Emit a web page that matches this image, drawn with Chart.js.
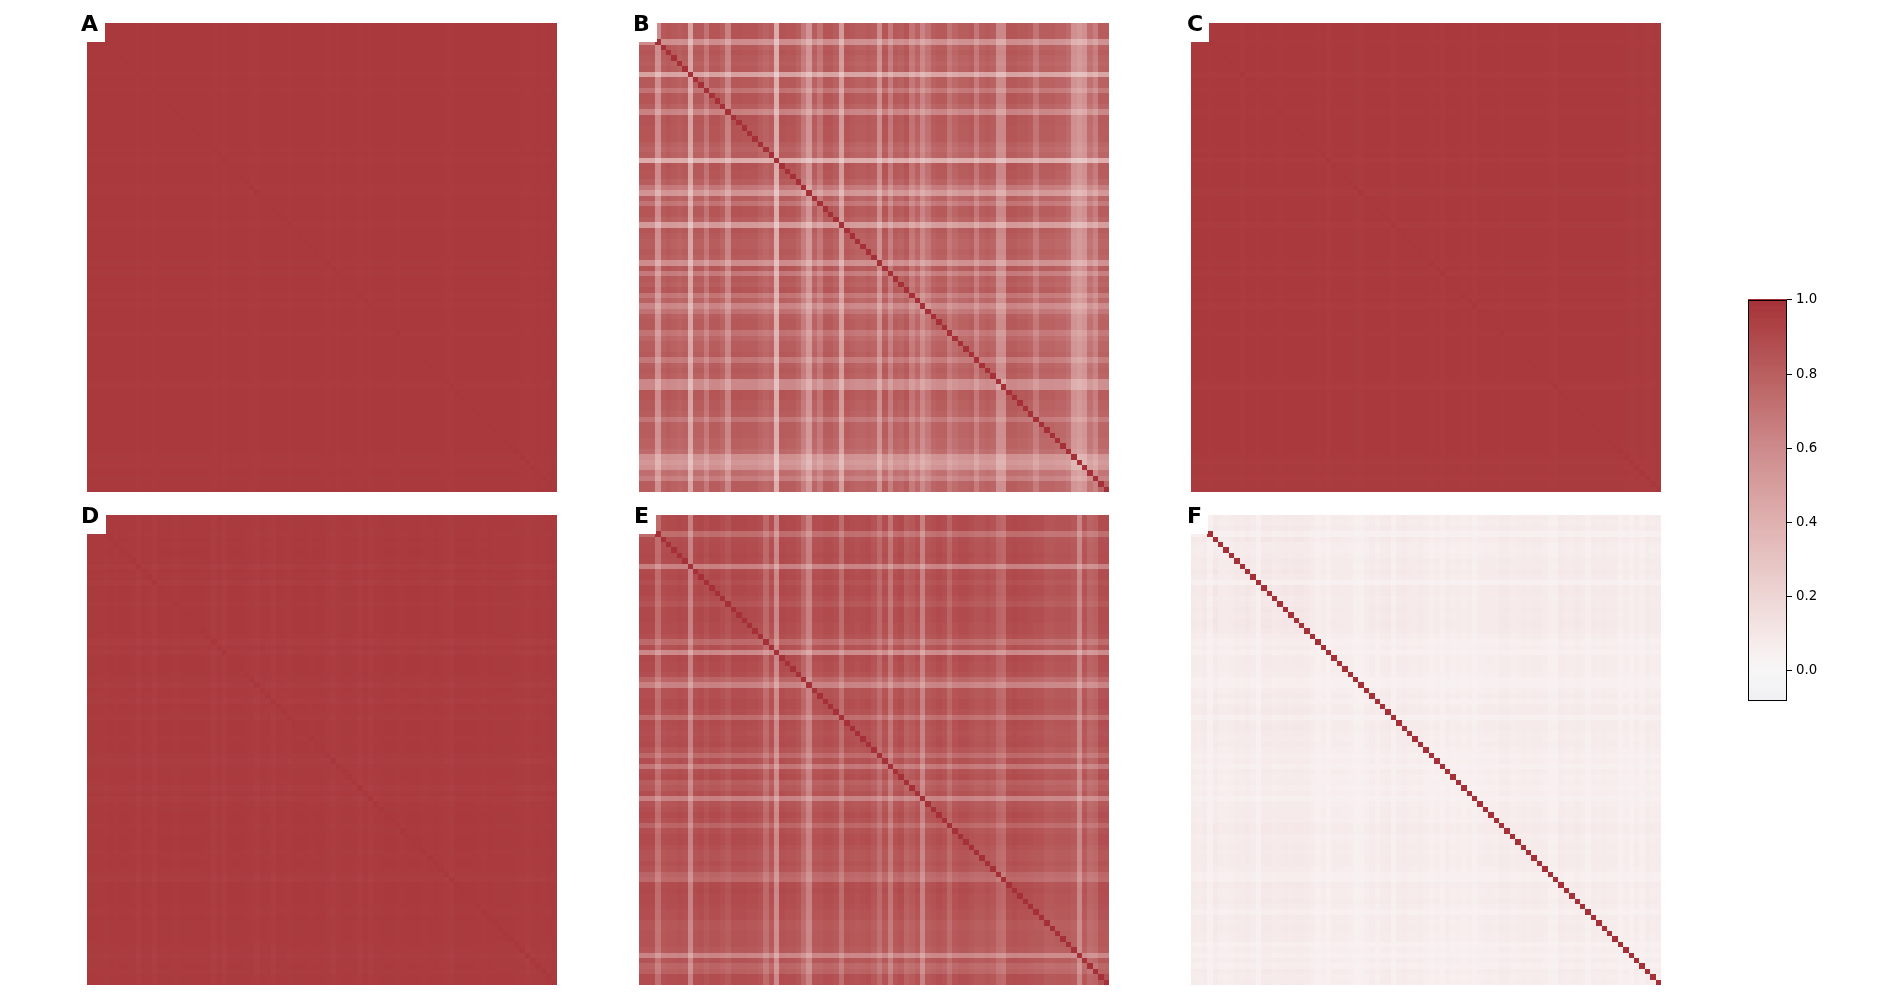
<!DOCTYPE html>
<html>
<head>
<meta charset="utf-8">
<title>Correlation matrices</title>
<script src="https://cdn.jsdelivr.net/npm/chart.js@4/dist/chart.umd.js"></script>
<style>
  html, body { margin: 0; padding: 0; background: #fff; }
  #page { position: relative; width: 1900px; height: 1000px; overflow: hidden; }
  canvas { position: absolute; display: block; }
  .box { position: absolute; background: #fff; }
  .tag { position: absolute; font: bold 22px "DejaVu Sans"; line-height: 24px; color: #000; }
</style>
</head>
<body>
<div id="page"></div>
<script>
// row / column strength of each panel (87 variables per panel).
// a cell is not read on its own: off-diagonal = strength(row) * strength(col), diagonal = panelDiagonal
const profileA = [.985,.985,.985,.985,.985,.985,.985,.985,.985,.978,.985,.985,.982,.985,.985,.985,.985,.985,.985,.985,.985,.985,.985,.982,.985,.978,.985,.985,.985,.985,.982,.978,.985,.985,.985,.985,.985,.978,.985,.985,.985,.985,.985,.985,.982,.985,.98,.985,.985,.985,.982,.985,.978,.985,.985,.985,.985,.982,.985,.985,.985,.985,.985,.985,.985,.985,.982,.98,.985,.985,.985,.985,.985,.985,.985,.985,.985,.985,.985,.985,.982,.978,.982,.985,.982,.985,.985];
const profileB = [.92,.92,.92,.64,.9,.92,.9,.88,.9,.52,.9,.9,.77,.92,.92,.88,.7,.93,.93,.92,.92,.92,.88,.85,.88,.47,.93,.92,.92,.88,.75,.6,.88,.77,.92,.92,.88,.57,.92,.9,.88,.88,.9,.88,.64,.92,.74,.9,.88,.92,.76,.86,.68,.78,.88,.9,.9,.77,.84,.88,.88,.9,.75,.88,.9,.88,.66,.66,.92,.92,.9,.9,.88,.76,.88,.88,.88,.86,.86,.82,.62,.58,.62,.8,.72,.88,.88];
const profileC = [.985,.985,.985,.982,.985,.985,.985,.985,.985,.975,.985,.985,.982,.985,.985,.985,.982,.985,.985,.985,.985,.985,.985,.982,.985,.975,.985,.985,.985,.985,.982,.975,.985,.985,.985,.985,.985,.975,.985,.985,.985,.985,.985,.985,.982,.985,.975,.985,.985,.985,.982,.985,.975,.985,.985,.985,.985,.982,.985,.985,.985,.985,.985,.985,.985,.985,.982,.975,.985,.985,.985,.985,.985,.985,.985,.985,.985,.985,.985,.985,.982,.975,.98,.982,.975,.98,.98];
const profileD = [.982,.982,.982,.98,.984,.982,.984,.984,.982,.968,.984,.982,.968,.984,.984,.984,.98,.984,.984,.984,.984,.984,.982,.968,.982,.968,.984,.984,.984,.982,.978,.968,.982,.98,.968,.984,.982,.976,.984,.984,.984,.982,.984,.984,.978,.968,.978,.982,.982,.98,.968,.982,.968,.98,.982,.984,.984,.98,.982,.984,.984,.984,.98,.982,.984,.982,.976,.968,.984,.984,.984,.984,.982,.98,.984,.982,.982,.982,.982,.98,.976,.968,.976,.98,.976,.982,.982];
const profileE = [.95,.95,.95,.78,.93,.94,.94,.95,.94,.68,.94,.95,.92,.95,.95,.93,.9,.95,.95,.95,.94,.94,.92,.8,.92,.64,.95,.94,.94,.92,.82,.68,.92,.92,.94,.94,.92,.78,.94,.93,.92,.93,.94,.9,.8,.92,.74,.92,.94,.85,.88,.92,.68,.9,.92,.94,.92,.82,.92,.94,.94,.92,.9,.9,.92,.9,.82,.8,.94,.95,.94,.94,.93,.92,.92,.89,.89,.9,.9,.9,.88,.66,.9,.82,.84,.93,.93];
const profileF = [.29,.27,.31,.2,.33,.26,.25,.27,.31,.29,.33,.29,.19,.33,.33,.29,.31,.33,.31,.33,.33,.31,.26,.21,.25,.2,.27,.27,.26,.25,.2,.19,.25,.29,.23,.29,.31,.2,.29,.31,.27,.26,.29,.25,.21,.25,.2,.27,.23,.25,.22,.25,.19,.25,.26,.26,.25,.31,.31,.25,.27,.29,.27,.29,.29,.26,.21,.21,.31,.27,.27,.31,.27,.21,.29,.27,.29,.27,.27,.2,.25,.2,.26,.21,.29,.25,.27];

const panelTags = ['A', 'B', 'C', 'D', 'E', 'F'];
const panelProfiles = [profileA, profileB, profileC, profileD, profileE, profileF];
const panelDiagonal = [0.972, 1, 0.974, 0.975, 1, 1];

const colorbarTicks = [0, 0.2, 0.4, 0.6, 0.8, 1];
const colorStops = [-0.08, 0, 0.05, 0.1, 0.2, 0.4, 0.6, 0.8, 0.97, 1];
const colorValues = [[240,240,244],[247,246,246],[248,240,240],[245,231,231],[237,214,213],[223,177,176],[205,138,139],[185,95,96],[169,57,61],[165,48,56]];

function colorFor(v) {
  let k = 0;
  while (k < colorStops.length - 2 && v > colorStops[k + 1]) k++;
  const t = Math.min(1, Math.max(0, (v - colorStops[k]) / (colorStops[k + 1] - colorStops[k])));
  const a = colorValues[k], b = colorValues[k + 1];
  return 'rgb(' + [0, 1, 2].map(c => Math.round(a[c] + (b[c] - a[c]) * t)).join(',') + ')';
}

// scatter controller that fills a whole cell around each point
class HeatController extends Chart.ScatterController {
  draw() {
    const ctx = this.chart.ctx;
    const data = this.getDataset().data;
    const xs = this.chart.scales.x, ys = this.chart.scales.y;
    for (const d of data) {
      const x0 = Math.round(xs.getPixelForValue(d.x - d.w / 2));
      const x1 = Math.round(xs.getPixelForValue(d.x + d.w / 2));
      const y0 = Math.round(ys.getPixelForValue(d.y - d.h / 2));
      const y1 = Math.round(ys.getPixelForValue(d.y + d.h / 2));
      ctx.fillStyle = colorFor(d.v);
      ctx.fillRect(Math.min(x0, x1), Math.min(y0, y1), Math.abs(x1 - x0), Math.abs(y1 - y0));
    }
  }
}
HeatController.id = 'heat';
HeatController.defaults = Chart.ScatterController.defaults;
Chart.register(HeatController);

const page = document.getElementById('page');

function addCanvas(left, top, w, h) {
  const c = document.createElement('canvas');
  c.width = w; c.height = h;
  c.style.left = left + 'px'; c.style.top = top + 'px';
  c.style.width = w + 'px'; c.style.height = h + 'px';
  page.appendChild(c);
  return c;
}

function buildCells(profile, diagonal) {
  const cells = [];
  profile.forEach((r, i) => {
    profile.forEach((c, j) => {
      cells.push({ x: j, y: i, w: 1, h: 1, v: i === j ? diagonal : r * c });
    });
  });
  return cells;
}

const panelLeft = [87, 639, 1191];
const panelTop = [23, 515];
const tagLeft = [81, 633, 1187, 81, 634, 1187];
const boxRight = [105, 657, 1209, 106, 656, 1208];

panelTags.forEach((tag, n) => {
  const col = n % 3, row = Math.floor(n / 3);
  const left = panelLeft[col], top = panelTop[row];
  const size = panelProfiles[n].length;
  new Chart(addCanvas(left, top, 470, row === 0 ? 469 : 470), {
    type: 'heat',
    data: { datasets: [{ data: buildCells(panelProfiles[n], panelDiagonal[n]), pointRadius: 0 }] },
    options: {
      responsive: false,
      animation: false,
      events: [],
      layout: { padding: 0 },
      plugins: { legend: { display: false }, tooltip: { enabled: false } },
      scales: {
        x: { type: 'linear', display: false, min: -0.5, max: size - 0.5 },
        y: { type: 'linear', display: false, reverse: true, min: -0.5, max: size - 0.5 }
      }
    }
  });

  const box = document.createElement('div');
  box.className = 'box';
  box.style.left = (left - 8) + 'px';
  box.style.top = (top - 8) + 'px';
  box.style.width = (boxRight[n] - left + 8) + 'px';
  box.style.height = '27px';
  page.appendChild(box);

  const label = document.createElement('div');
  label.className = 'tag';
  label.textContent = tag;
  label.style.left = tagLeft[n] + 'px';
  label.style.top = (top - 11) + 'px';
  page.appendChild(label);
});

// colorbar
const barCells = [];
for (let k = 0; k < 216; k++) {
  const v = 1 - k * 0.005;
  barCells.push({ x: 0, y: v, w: 1, h: 0.005, v: v });
}

const frame = {
  id: 'frame',
  afterDraw(chart) {
    const a = chart.chartArea, ctx = chart.ctx;
    ctx.save();
    ctx.strokeStyle = '#000';
    ctx.lineWidth = 1;
    ctx.strokeRect(a.left + 0.5, a.top + 0.5, a.right - a.left - 1, a.bottom - a.top - 1);
    ctx.restore();
  }
};

new Chart(addCanvas(1738, 288, 110, 425), {
  type: 'heat',
  data: { datasets: [{ data: barCells, pointRadius: 0 }] },
  plugins: [frame],
  options: {
    responsive: false,
    animation: false,
    events: [],
    layout: { padding: { left: 10, top: 0, bottom: 0, right: 0 } },
    plugins: { legend: { display: false }, tooltip: { enabled: false } },
    scales: {
      x: { type: 'linear', display: false, min: -0.5, max: 0.5 },
      y: {
        type: 'linear',
        position: 'right',
        min: -0.081,
        max: 1,
        afterBuildTicks(scale) { scale.ticks = colorbarTicks.map(v => ({ value: v })); },
        afterFit(scale) { scale.width = 61; },
        border: { display: false },
        grid: { drawOnChartArea: false, tickLength: 5, tickColor: '#000', tickWidth: 1 },
        ticks: {
          autoSkip: false,
          padding: 4,
          color: '#000',
          font: { family: 'DejaVu Sans', size: 13.3 },
          callback: v => v.toFixed(1)
        }
      }
    }
  }
});
</script>
</body>
</html>
